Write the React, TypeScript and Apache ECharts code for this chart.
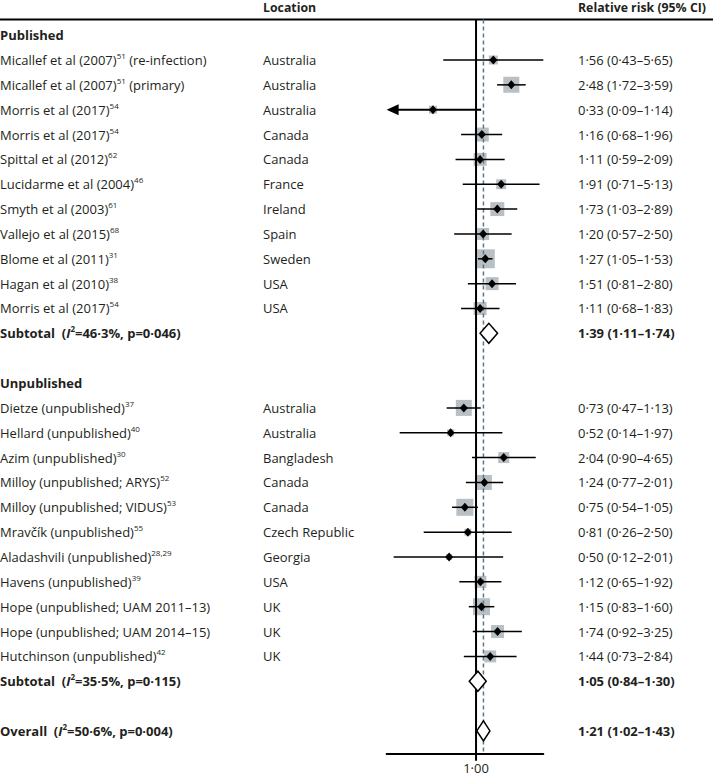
import React, { useEffect, useRef } from 'react';
import * as echarts from 'echarts';

// ---------- data ----------
const pubNames = [
  'Micallef et al (2007)^51^ (re-infection)',
  'Micallef et al (2007)^51^ (primary)',
  'Morris et al (2017)^54',
  'Morris et al (2017)^54',
  'Spittal et al (2012)^62',
  'Lucidarme et al (2004)^46',
  'Smyth et al (2003)^61',
  'Vallejo et al (2015)^68',
  'Blome et al (2011)^31',
  'Hagan et al (2010)^38',
  'Morris et al (2017)^54',
];
const pubLocations = ['Australia', 'Australia', 'Australia', 'Canada', 'Canada', 'France', 'Ireland', 'Spain', 'Sweden', 'USA', 'USA'];
const pubRR = [1.56, 2.48, 0.33, 1.16, 1.11, 1.91, 1.73, 1.2, 1.27, 1.51, 1.11];
const pubLower = [0.43, 1.72, 0.09, 0.68, 0.59, 0.71, 1.03, 0.57, 1.05, 0.81, 0.68];
const pubUpper = [5.65, 3.59, 1.14, 1.96, 2.09, 5.13, 2.89, 2.5, 1.53, 2.8, 1.83];
const pubWeights = [2.2, 7.0, 1.7, 5.3, 4.6, 2.7, 5.3, 3.9, 9.8, 4.6, 4.6];

const unpubNames = [
  'Dietze (unpublished)^37',
  'Hellard (unpublished)^40',
  'Azim (unpublished)^30',
  'Milloy (unpublished; ARYS)^52',
  'Milloy (unpublished; VIDUS)^53',
  'Mravčík (unpublished)^55',
  'Aladashvili (unpublished)^28,29',
  'Havens (unpublished)^39',
  'Hope (unpublished; UAM 2011–13)',
  'Hope (unpublished; UAM 2014–15)',
  'Hutchinson (unpublished)^42',
];
const unpubLocations = ['Australia', 'Australia', 'Bangladesh', 'Canada', 'Canada', 'Czech Republic', 'Georgia', 'USA', 'UK', 'UK', 'UK'];
const unpubRR = [0.73, 0.52, 2.04, 1.24, 0.75, 0.81, 0.5, 1.12, 1.15, 1.74, 1.44];
const unpubLower = [0.47, 0.14, 0.9, 0.77, 0.54, 0.26, 0.12, 0.65, 0.83, 0.92, 0.73];
const unpubUpper = [1.13, 1.97, 4.65, 2.01, 1.05, 2.5, 2.01, 1.92, 1.6, 3.25, 2.84];
const unpubWeights = [7.0, 1.3, 3.3, 6.1, 7.9, 1.3, 1.0, 3.9, 7.9, 4.6, 3.9];

const groupTitles = ['Published', 'Unpublished'];
const summaryNames = ['Subtotal', 'Subtotal', 'Overall'];
const summaryI2 = ['46·3%', '35·5%', '50·6%'];
const summaryP = ['0·046', '0·115', '0·004'];
const summaryRR = [1.39, 1.05, 1.21];
const summaryLower = [1.11, 0.84, 1.02];
const summaryUpper = [1.74, 1.3, 1.43];

const headerLocation = 'Location';
const headerRR = 'Relative risk (95% CI)';
const refValue = 1;
const xTickLabel = '1·00';
const xMin = 0.1;
const xMax = 5.65;

// ---------- helpers ----------
const FONT = '"Open Sans"';
const TXT = '#231f20';
const fmt = (v: number) => v.toFixed(2).replace('.', '·');
const ciText = (rr: number, lo: number, hi: number) => `${fmt(rr)} (${fmt(lo)}–${fmt(hi)})`;
const esc = (s: string) => s.replace(/[{}|]/g, '');
const richName = (s: string) =>
  s
    .split('^')
    .map((part, i) => (part ? `{${i % 2 ? 's' : 'n'}|${esc(part)}}` : ''))
    .join('');

type Row = {
  y: number;
  kind: 'header' | 'group' | 'study' | 'summary';
  label?: string;
  loc?: string;
  rr?: number;
  lo?: number;
  hi?: number;
  w?: number;
  i2?: string;
  p?: string;
};

const rows: Row[] = [];
rows.push({ y: -0.13, kind: 'header' });
let yy = 1;
const addGroup = (title: string, names: string[], locs: string[], rr: number[], lo: number[], hi: number[], w: number[], si: number) => {
  rows.push({ y: yy++, kind: 'group', label: title });
  names.forEach((n, i) => rows.push({ y: yy++, kind: 'study', label: n, loc: locs[i], rr: rr[i], lo: lo[i], hi: hi[i], w: w[i] }));
  rows.push({ y: yy++, kind: 'summary', label: summaryNames[si], rr: summaryRR[si], lo: summaryLower[si], hi: summaryUpper[si], i2: summaryI2[si], p: summaryP[si] });
  yy++;
};
addGroup(groupTitles[0], pubNames, pubLocations, pubRR, pubLower, pubUpper, pubWeights, 0);
addGroup(groupTitles[1], unpubNames, unpubLocations, unpubRR, unpubLower, unpubUpper, unpubWeights, 1);
rows.push({ y: yy, kind: 'summary', label: summaryNames[2], rr: summaryRR[2], lo: summaryLower[2], hi: summaryUpper[2], i2: summaryI2[2], p: summaryP[2] });

const HEADER_LINE_ROW = 0.37;
const AXIS_ROW = 29.9;

const FS = 13;
const rich: any = {
  n: { fontSize: FS, fontFamily: FONT, color: TXT, lineHeight: 17 },
  s: { fontSize: 8, fontFamily: FONT, color: TXT, lineHeight: 12, verticalAlign: 'top' },
  h: { fontSize: 12.3, fontFamily: FONT, color: TXT, lineHeight: 17, fontWeight: 'bold' },
  b: { fontSize: FS, fontFamily: FONT, color: TXT, lineHeight: 17, fontWeight: 'bold' },
  bi: { fontSize: FS, fontFamily: FONT, color: TXT, lineHeight: 17, fontWeight: 'bold', fontStyle: 'italic' },
  bs: { fontSize: 8, fontFamily: FONT, color: TXT, lineHeight: 12, fontWeight: 'bold', verticalAlign: 'top' },
};

const COL_NAME = 0;
const COL_LOC = 263;
const COL_CI = 578;

export default function App() {
  const ref = useRef<HTMLDivElement>(null);
  useEffect(() => {
    if (!ref.current) return;
    const chart = echarts.init(ref.current, null, { renderer: 'svg' });
    const studyRows = rows.filter((r) => r.kind === 'study');

    const option: any = {
      animation: false,
      grid: { left: 386.6, right: 713 - 543.3, top: 10.3, bottom: 776 - 753.3 },
      xAxis: {
        type: 'log',
        logBase: 10,
        min: xMin,
        max: xMax,
        position: 'bottom',
        axisLine: { show: true, onZero: false, lineStyle: { color: '#000', width: 2 } },
        axisTick: { show: false },
        splitLine: { show: false },
        axisLabel: {
          margin: 8,
          fontFamily: FONT,
          fontSize: FS,
          lineHeight: 14,
          color: TXT,
          showMinLabel: false,
          showMaxLabel: false,
          formatter: (v: number) => (Math.abs(v - refValue) < 1e-9 ? xTickLabel : ''),
        },
      },
      yAxis: { type: 'value', min: 0, max: AXIS_ROW, inverse: true, show: false },
      graphic: [
        {
          type: 'line',
          shape: { x1: 0, y1: 19.5, x2: 713, y2: 19.5 },
          style: { stroke: '#000', lineWidth: 2 },
        },
      ],
      series: [
        // weight squares
        {
          type: 'custom',
          z: 1,
          clip: false,
          data: studyRows.map((r) => [r.rr, r.y, r.w]),
          renderItem: (params: any, api: any) => {
            const c = api.coord([api.value(0), api.value(1)]);
            const s = 6.06 * Math.sqrt(api.value(2));
            return {
              type: 'rect',
              shape: { x: c[0] - s / 2, y: c[1] - s / 2, width: s, height: s },
              style: { fill: '#b9c0c5' },
            };
          },
        },
        // reference lines
        {
          type: 'custom',
          z: 2,
          clip: false,
          data: [
            [refValue, HEADER_LINE_ROW, 30.2, 0],
            [summaryRR[2], HEADER_LINE_ROW, AXIS_ROW, 1],
          ],
          renderItem: (params: any, api: any) => {
            const a = api.coord([api.value(0), api.value(1)]);
            const b = api.coord([api.value(0), api.value(2)]);
            const dashed = api.value(3) === 1;
            return {
              type: 'line',
              shape: { x1: a[0], y1: a[1], x2: b[0], y2: b[1] },
              style: dashed
                ? { stroke: '#5b7784', lineWidth: 1.5, lineDash: [4, 3] }
                : { stroke: '#000', lineWidth: 2 },
            };
          },
        },
        // CIs, markers, texts
        {
          type: 'custom',
          z: 3,
          clip: false,
          data: rows.map((r) => [r.rr ?? refValue, r.y]),
          renderItem: (params: any, api: any) => {
            const r = rows[params.dataIndex];
            const cy = api.coord([refValue, r.y])[1];
            const children: any[] = [];
            const text = (x: number, t: string, align = 'left') =>
              children.push({
                type: 'text',
                x,
                y: cy,
                style: { text: t, rich, align, verticalAlign: 'middle', fill: TXT },
              });
            if (r.kind === 'header') {
              text(COL_LOC, `{h|${headerLocation}}`);
              text(COL_CI, `{h|${headerRR}}`);
            } else if (r.kind === 'group') {
              text(COL_NAME, `{b|${r.label}}`);
            } else if (r.kind === 'study') {
              text(COL_NAME, richName(r.label!));
              text(COL_LOC, `{n|${r.loc}}`);
              text(COL_CI, `{n|${ciText(r.rr!, r.lo!, r.hi!)}}`);
              const clipped = r.lo! < xMin;
              const left = api.coord([clipped ? xMin : r.lo!, r.y]);
              const right = api.coord([r.hi!, r.y]);
              const mid = api.coord([r.rr!, r.y]);
              children.push({
                type: 'line',
                shape: { x1: left[0] + (clipped ? 6 : 0), y1: cy, x2: right[0], y2: cy },
                style: { stroke: '#000', lineWidth: clipped ? 2 : 1.5 },
              });
              if (clipped) {
                children.push({
                  type: 'polygon',
                  shape: { points: [[left[0], cy], [left[0] + 12, cy - 5.5], [left[0] + 12, cy + 5.5]] },
                  style: { fill: '#000' },
                });
              }
              children.push({
                type: 'polygon',
                shape: { points: [[mid[0] - 4, cy], [mid[0], cy - 4.5], [mid[0] + 4, cy], [mid[0], cy + 4.5]] },
                style: { fill: '#000' },
              });
            } else if (r.kind === 'summary') {
              text(COL_NAME, `{b|${r.label}  (}{bi|I}{bs|2}{b|=${r.i2}, p=${r.p})}`);
              text(COL_CI, `{b|${ciText(r.rr!, r.lo!, r.hi!)}}`);
              const l = api.coord([r.lo!, r.y]);
              const h = api.coord([r.hi!, r.y]);
              const m = api.coord([r.rr!, r.y]);
              children.push({
                type: 'polygon',
                shape: { points: [[l[0], cy], [m[0], cy - 10], [h[0], cy], [m[0], cy + 10]] },
                style: { fill: '#fff', stroke: '#000', lineWidth: 1.5 },
              });
            }
            return { type: 'group', children };
          },
        },
      ],
    };
    chart.setOption(option);
    return () => chart.dispose();
  }, []);
  return <div ref={ref} style={{ position: 'absolute', left: 0, top: 0, width: 713, height: 776 }} />;
}
